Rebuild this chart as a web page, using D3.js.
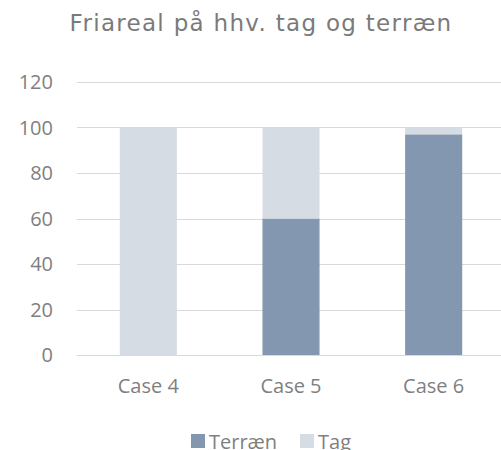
<!DOCTYPE html>
<html lang="da">
<head>
<meta charset="UTF-8" />
<title>Friareal</title>
<script src="https://d3js.org/d3.v7.min.js"></script>
<style>
  body { margin: 0; background: #fff; overflow: hidden; }
  svg text { font-family: "Open Sans", "Liberation Sans", sans-serif; fill: #7f7f7f; }
</style>
</head>
<body>
<div id="chart"></div>
<script>
  // data
  const cases = ["Case 4", "Case 5", "Case 6"];
  const terraen = [0, 60, 97];
  const tag = [100, 40, 3];
  const seriesNames = ["Terræn", "Tag"];
  const seriesColors = ["#8497b0", "#d6dce4"];
  const yTicks = [0, 20, 40, 60, 80, 100, 120];

  const W = 501, H = 450;
  const margin = { top: 82, right: -4, bottom: 95, left: 77 };
  const width = W - margin.left - margin.right,
        height = H - margin.top - margin.bottom;

  const svg = d3.select("#chart").append("svg")
    .attr("width", W).attr("height", H);

  svg.append("text")
    .attr("x", 261).attr("y", 31)
    .attr("text-anchor", "middle")
    .style("font-family", "'DejaVu Sans', sans-serif")
    .style("font-size", "23px")
    .style("letter-spacing", "1.3px")
    .style("fill", "#7a7a7a")
    .text("Friareal på hhv. tag og terræn");

  const g = svg.append("g")
    .attr("transform", "translate(" + margin.left + "," + margin.top + ")");

  const x = d3.scaleBand().domain(cases).range([0, width]).paddingInner(0.6).paddingOuter(0.3);
  const y = d3.scaleLinear().domain([0, 120]).range([height, 0]);

  // grid
  g.append("g").selectAll("line").data(yTicks).join("line")
    .attr("x1", 0).attr("x2", width)
    .attr("y1", d => Math.round(y(d)) + 0.5).attr("y2", d => Math.round(y(d)) + 0.5)
    .attr("stroke", "#d9d9d9").attr("stroke-width", 1);

  // y labels
  g.append("g").selectAll("text").data(yTicks).join("text")
    .attr("x", -24).attr("y", d => y(d))
    .attr("dy", "0.35em")
    .attr("text-anchor", "end")
    .style("font-size", "20px")
    .text(d => d);

  // stacked bars
  const rows = cases.map((c, i) => ({ case: c, "Terræn": terraen[i], "Tag": tag[i] }));
  const stack = d3.stack().keys(seriesNames)(rows);

  g.append("g").selectAll("g").data(stack).join("g")
    .attr("fill", (d, i) => seriesColors[i])
    .selectAll("rect").data(d => d).join("rect")
    .attr("x", d => x(d.data.case))
    .attr("width", x.bandwidth())
    .attr("y", d => y(d[1]))
    .attr("height", d => y(d[0]) - y(d[1]));

  // baseline
  g.append("line")
    .attr("x1", 0).attr("x2", width)
    .attr("y1", Math.round(y(0)) + 0.5).attr("y2", Math.round(y(0)) + 0.5)
    .attr("stroke", "#d9d9d9");

  // x labels
  g.append("g").selectAll("text").data(cases).join("text")
    .attr("x", d => x(d) + x.bandwidth() / 2)
    .attr("y", height + 38)
    .attr("text-anchor", "middle")
    .style("font-size", "20px")
    .text(d => d);

  // legend
  const legend = svg.append("g").attr("transform", "translate(191,434)");
  const offs = [0, 109];
  seriesNames.forEach((s, i) => {
    legend.append("rect")
      .attr("x", offs[i]).attr("y", 0)
      .attr("width", 14).attr("height", 14)
      .attr("fill", seriesColors[i]);
    legend.append("text")
      .attr("x", offs[i] + 18).attr("y", 14.5)
      .style("font-size", "20px")
      .text(s);
  });
</script>
</body>
</html>
